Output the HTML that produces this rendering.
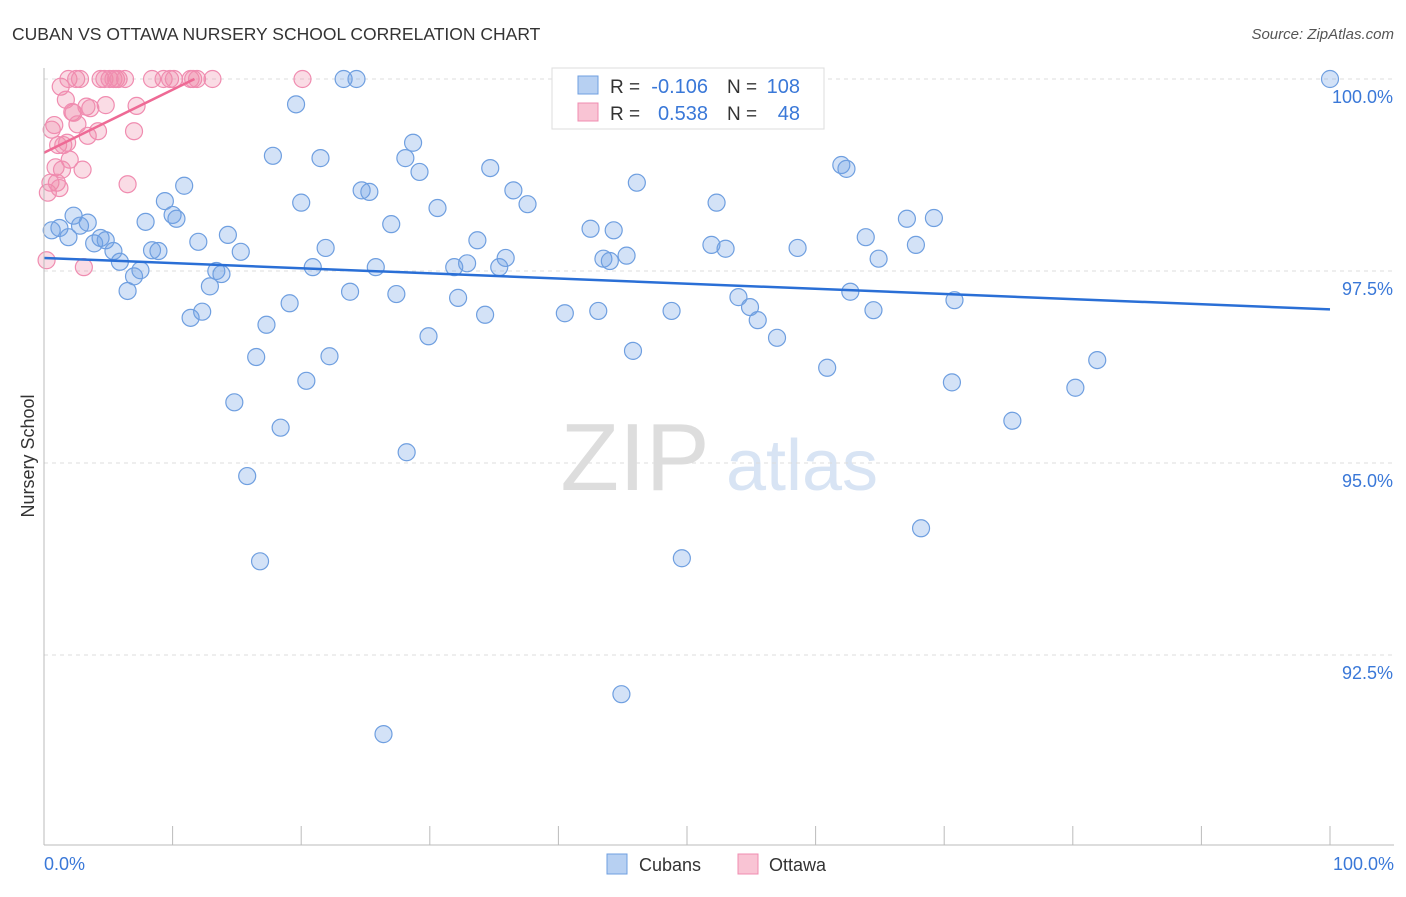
<!DOCTYPE html>
<html><head><meta charset="utf-8"><style>
body{margin:0;background:#fff;font-family:"Liberation Sans",sans-serif;}
svg text{font-family:"Liberation Sans",sans-serif;}
</style></head><body>
<svg id="chart" width="1406" height="892">
<text x="12" y="40" font-size="17.5" fill="#333">CUBAN VS OTTAWA NURSERY SCHOOL CORRELATION CHART</text>
<text x="1394" y="39" font-size="15" fill="#555" text-anchor="end" font-style="italic">Source: ZipAtlas.com</text>
<text x="34" y="456" font-size="18" fill="#333" text-anchor="middle" transform="rotate(-90 34 456)">Nursery School</text>
<g><text x="635" y="490" font-size="96" fill="#ddd" text-anchor="middle" font-family="Liberation Serif,serif">ZIP</text><text x="802" y="490" font-size="72" fill="#d8e4f4" text-anchor="middle">atlas</text></g>
<g id="grid"></g><g id="pts"></g><g id="trend"></g>
<line x1="44" y1="68" x2="44" y2="845" stroke="#bbb"/>
<line x1="44" y1="845" x2="1394" y2="845" stroke="#bbb"/>
<text x="44" y="870" font-size="18" fill="#3a78d8">0.0%</text>
<text x="1394" y="870" font-size="18" fill="#3a78d8" text-anchor="end">100.0%</text>
<g>
<rect x="552" y="68" width="272" height="61" fill="#fff" stroke="#ddd"/>
<rect x="578" y="76" width="20" height="18" fill="#b7d0f2" stroke="#6f9fe0"/>
<rect x="578" y="103" width="20" height="18" fill="#f9c4d4" stroke="#f08cb0"/>
<text x="610" y="93" font-size="19" fill="#333">R =</text>
<text x="708" y="93" font-size="20" fill="#3a78d8" text-anchor="end">-0.106</text>
<text x="727" y="93" font-size="19" fill="#333">N =</text>
<text x="800" y="93" font-size="20" fill="#3a78d8" text-anchor="end">108</text>
<text x="610" y="120" font-size="19" fill="#333">R =</text>
<text x="708" y="120" font-size="20" fill="#3a78d8" text-anchor="end">0.538</text>
<text x="727" y="120" font-size="19" fill="#333">N =</text>
<text x="800" y="120" font-size="20" fill="#3a78d8" text-anchor="end">48</text>
</g>
<g><rect x="607" y="854" width="20" height="20" fill="#b7d0f2" stroke="#6f9fe0"/><text x="639" y="871" font-size="18" fill="#333">Cubans</text></g>
<g><rect x="738" y="854" width="20" height="20" fill="#f9c4d4" stroke="#f08cb0"/><text x="769" y="871" font-size="18" fill="#333">Ottawa</text></g>
</svg>
<script>
const yTicks=[100,97.5,95,92.5];
const yTickLabels=["100.0%","97.5%","95.0%","92.5%"];
const xTicks=[0,10,20,30,40,50,60,70,80,90,100];
const cubansX=[0.6,1.2,1.9,2.3,2.8,3.4,3.9,4.4,4.8,5.4,5.9,6.5,7.0,7.5,7.9,8.4,8.9,9.4,10.0,10.3,10.9,11.4,12.0,12.3,12.9,13.4,13.8,14.3,14.8,15.3,15.8,16.5,16.8,17.3,17.8,18.4,19.1,19.6,20.0,20.4,20.9,21.5,21.9,22.2,23.3,23.8,24.3,24.7,25.3,25.8,26.4,27.0,27.4,28.1,28.2,28.7,29.2,29.9,30.6,31.9,32.2,32.9,33.7,34.3,34.7,35.4,35.9,36.5,37.6,40.5,42.5,43.1,43.5,44.0,44.3,44.9,45.3,45.8,46.1,48.8,49.6,51.9,52.3,53.0,54.0,54.9,55.5,57.0,58.6,60.9,62.0,62.4,62.7,63.9,64.5,64.9,67.1,67.8,68.2,69.2,70.6,70.8,75.3,80.2,81.9,100,51.0];
const cubansY=[98.03,98.06,97.94,98.22,98.09,98.13,97.86,97.93,97.90,97.76,97.62,97.24,97.43,97.51,98.14,97.77,97.76,98.41,98.23,98.18,98.61,96.89,97.88,96.97,97.30,97.50,97.46,97.97,95.79,97.75,94.83,96.38,93.72,96.80,99.00,95.46,97.08,99.67,98.39,96.07,97.55,98.97,97.80,96.39,100,97.23,100,98.55,98.53,97.55,91.47,98.11,97.20,98.97,95.14,99.17,98.79,96.65,98.32,97.55,97.15,97.60,97.90,96.93,98.84,97.55,97.67,98.55,98.37,96.95,98.05,96.98,97.66,97.63,98.03,91.99,97.70,96.46,98.65,96.98,93.76,97.84,98.39,97.79,97.16,97.03,96.86,96.63,97.80,96.24,98.88,98.83,97.23,97.94,96.99,97.66,98.18,97.84,94.15,98.19,96.05,97.12,95.55,95.98,96.34,100,100];
const ottawaX=[0.2,0.3,0.5,0.6,0.8,0.9,1.0,1.1,1.2,1.3,1.4,1.5,1.7,1.8,1.9,2.0,2.2,2.3,2.5,2.6,2.8,3.0,3.1,3.3,3.4,3.6,4.2,4.4,4.7,4.8,5.1,5.4,5.6,5.8,6.3,6.5,7.0,7.2,8.4,9.3,9.8,10.1,11.4,11.6,11.9,13.1,20.1];
const ottawaY=[97.64,98.52,98.65,99.34,99.40,98.85,98.65,99.14,98.58,99.90,98.82,99.14,99.73,99.17,100,98.95,99.57,99.56,100,99.41,100,98.82,97.55,99.64,99.26,99.62,99.32,100,100,99.66,100,100,100,100,100,98.63,99.32,99.65,100,100,100,100,100,100,100,100,100];
const cubansTrend=[[0,97.67],[100,97.0]];
const ottawaTrend=[[0,99.04],[11.7,100]];
const NS="http://www.w3.org/2000/svg";
const sx=v=>44+v*12.86;
const sy=v=>79+(100-v)*76.8;
function mk(tag,at,parent){const e=document.createElementNS(NS,tag);for(const k in at)e.setAttribute(k,at[k]);parent.appendChild(e);return e;}
const grid=document.getElementById('grid'),pts=document.getElementById('pts'),tr=document.getElementById('trend');
yTicks.forEach((t,i)=>{
 const l=mk('line',{x1:44,x2:1394,y1:sy(t),y2:sy(t),stroke:'#ddd','stroke-dasharray':'4,4'},grid);
 
 
 const tx=mk('text',{x:1393,y:sy(t)+24,'font-size':18,fill:'#3a78d8','text-anchor':'end'},grid);
 tx.textContent=yTickLabels[i];
 
 
});
xTicks.forEach(t=>{
 const l=mk('line',{x1:sx(t),x2:sx(t),y1:826,y2:845,stroke:'#bbb'},grid);
 
 
});
function draw(X,Y,fill,stroke,name){X.forEach((x,i)=>{
 const c=mk('circle',{cx:sx(x),cy:sy(Y[i]),r:8.5,fill:fill,stroke:stroke,'stroke-width':1.2},pts);
 
 
});}
draw(ottawaX,ottawaY,'rgba(240,140,170,0.3)','#f08cb0','ottawa-point');
draw(cubansX,cubansY,'rgba(110,160,230,0.3)','#6f9fe0','cubans-point');
const t1=mk('line',{x1:sx(cubansTrend[0][0]),y1:sy(cubansTrend[0][1]),x2:sx(cubansTrend[1][0]),y2:sy(cubansTrend[1][1]),stroke:'#2a6fd6','stroke-width':2.5},tr);


const t2=mk('line',{x1:sx(ottawaTrend[0][0]),y1:sy(ottawaTrend[0][1]),x2:sx(ottawaTrend[1][0]),y2:sy(ottawaTrend[1][1]),stroke:'#ee6a95','stroke-width':2.5},tr);


</script>
</body></html>
